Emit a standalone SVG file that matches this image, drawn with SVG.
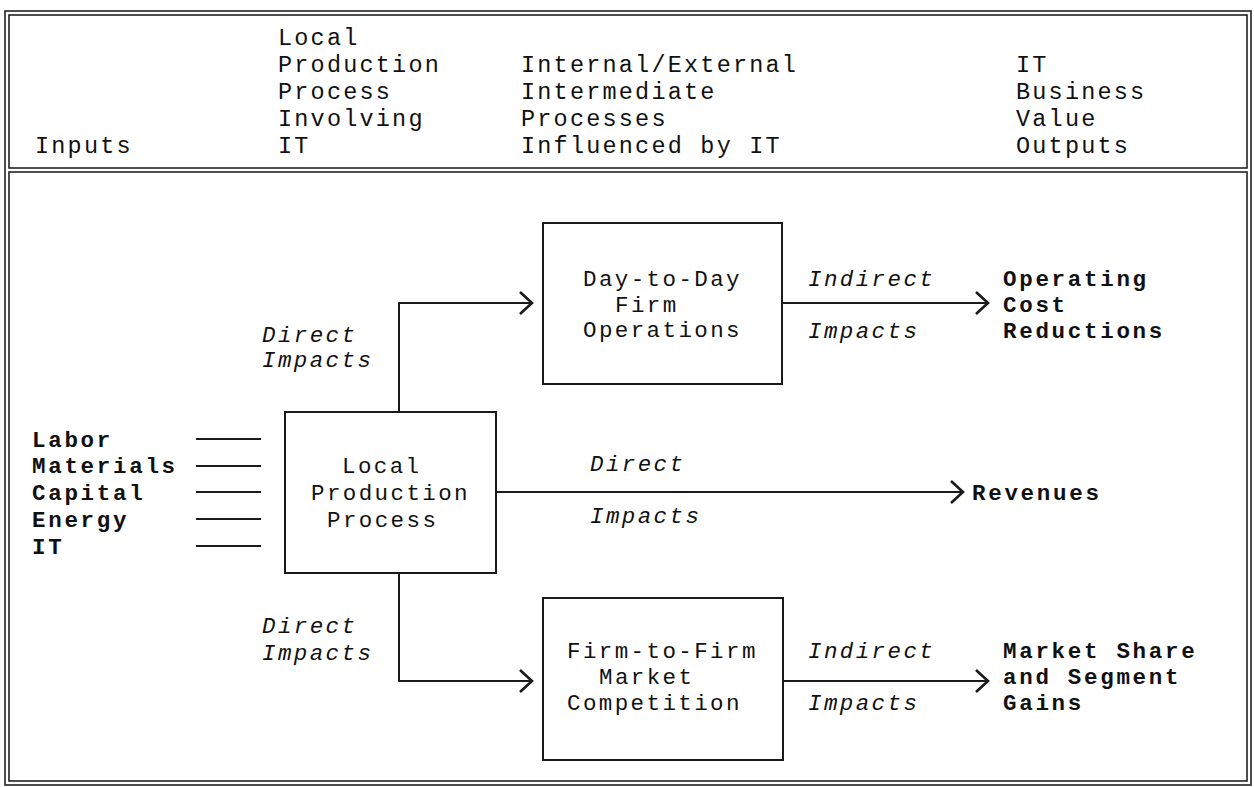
<svg xmlns="http://www.w3.org/2000/svg" width="1254" height="787" viewBox="0 0 1254 787">
<style>
.frame{fill:none;stroke:#222;stroke-width:1.6}
.box{fill:none;stroke:#1a1a1a;stroke-width:2}
.ln{fill:none;stroke:#1a1a1a;stroke-width:2}
text{font-family:"Liberation Mono","Courier New",monospace;fill:#111}
.hd{font-size:23.5px;letter-spacing:2.2px}
.bx{font-size:22.5px;letter-spacing:2.4px}
.it{font-size:22.5px;letter-spacing:2.4px;font-style:italic}
.bd{font-size:22.5px;letter-spacing:2.7px;font-weight:bold}
</style>
<defs>
<marker id="chev" markerUnits="userSpaceOnUse" markerWidth="16" markerHeight="26" refX="13" refY="12" orient="auto" viewBox="0 0 16 26">
<path d="M1,1 L13,12 L1,23" fill="none" stroke="#1a1a1a" stroke-width="2.6" stroke-linejoin="miter"/>
</marker>
</defs>
<rect width="1254" height="787" fill="#fff"/>
<g id="frame">
<rect class="frame" x="5" y="11" width="1246" height="774"/>
<rect class="frame" x="9" y="15" width="1238" height="153"/>
<rect class="frame" x="9" y="172" width="1238" height="609"/>
</g>
<g id="header">
<text class="hd" x="35" y="153">Inputs</text>
<text class="hd" x="278" y="45">Local</text>
<text class="hd" x="278" y="72">Production</text>
<text class="hd" x="278" y="99">Process</text>
<text class="hd" x="278" y="126">Involving</text>
<text class="hd" x="278" y="153">IT</text>
<text class="hd" x="521" y="72">Internal/External</text>
<text class="hd" x="521" y="99">Intermediate</text>
<text class="hd" x="521" y="126">Processes</text>
<text class="hd" x="521" y="153">Influenced by IT</text>
<text class="hd" x="1016" y="72">IT</text>
<text class="hd" x="1016" y="99">Business</text>
<text class="hd" x="1016" y="126">Value</text>
<text class="hd" x="1016" y="153">Outputs</text>
</g>
<g id="inputs">
<text class="bd" x="32" y="447">Labor</text>
<text class="bd" x="32" y="473">Materials</text>
<text class="bd" x="32" y="500">Capital</text>
<text class="bd" x="32" y="527">Energy</text>
<text class="bd" x="32" y="554">IT</text>
</g>
<g id="local-production">
<rect class="box" x="285" y="412" width="211" height="161"/>
<text class="bx" x="342" y="473">Local</text>
<text class="bx" x="311" y="500">Production</text>
<text class="bx" x="327" y="527">Process</text>
</g>
<g id="day-to-day">
<rect class="box" x="543" y="223" width="239" height="161"/>
<text class="bx" x="583" y="286">Day-to-Day</text>
<text class="bx" x="615" y="312">Firm</text>
<text class="bx" x="583" y="337">Operations</text>
</g>
<g id="firm-to-firm">
<rect class="box" x="543" y="598" width="240" height="162"/>
<text class="bx" x="567" y="658">Firm-to-Firm</text>
<text class="bx" x="599" y="684">Market</text>
<text class="bx" x="567" y="710">Competition</text>
</g>
<g id="outputs">
<text class="bd" x="1003" y="286">Operating</text>
<text class="bd" x="1003" y="312">Cost</text>
<text class="bd" x="1003" y="338">Reductions</text>
<text class="bd" x="972" y="500">Revenues</text>
<text class="bd" x="1003" y="658">Market Share</text>
<text class="bd" x="1003" y="684">and Segment</text>
<text class="bd" x="1003" y="710">Gains</text>
</g>
<g id="connectors">
<line class="ln" x1="196" y1="439" x2="261" y2="439"/>
<line class="ln" x1="196" y1="466" x2="261" y2="466"/>
<line class="ln" x1="196" y1="492" x2="261" y2="492"/>
<line class="ln" x1="196" y1="519" x2="261" y2="519"/>
<line class="ln" x1="196" y1="546" x2="261" y2="546"/>
<polyline class="ln" points="399,412 399,303 532,303" marker-end="url(#chev)"/>
<polyline class="ln" points="399,573 399,681 532,681" marker-end="url(#chev)"/>
<line class="ln" x1="496" y1="492" x2="963" y2="492" marker-end="url(#chev)"/>
<line class="ln" x1="782" y1="303" x2="988" y2="303" marker-end="url(#chev)"/>
<line class="ln" x1="783" y1="681" x2="988" y2="681" marker-end="url(#chev)"/>
</g>
<g id="labels">
<text class="it" x="262" y="342">Direct</text>
<text class="it" x="262" y="367">Impacts</text>
<text class="it" x="262" y="633">Direct</text>
<text class="it" x="262" y="660">Impacts</text>
<text class="it" x="590" y="471">Direct</text>
<text class="it" x="590" y="523">Impacts</text>
<text class="it" x="808" y="286">Indirect</text>
<text class="it" x="808" y="338">Impacts</text>
<text class="it" x="808" y="658">Indirect</text>
<text class="it" x="808" y="710">Impacts</text>
</g>
</svg>
